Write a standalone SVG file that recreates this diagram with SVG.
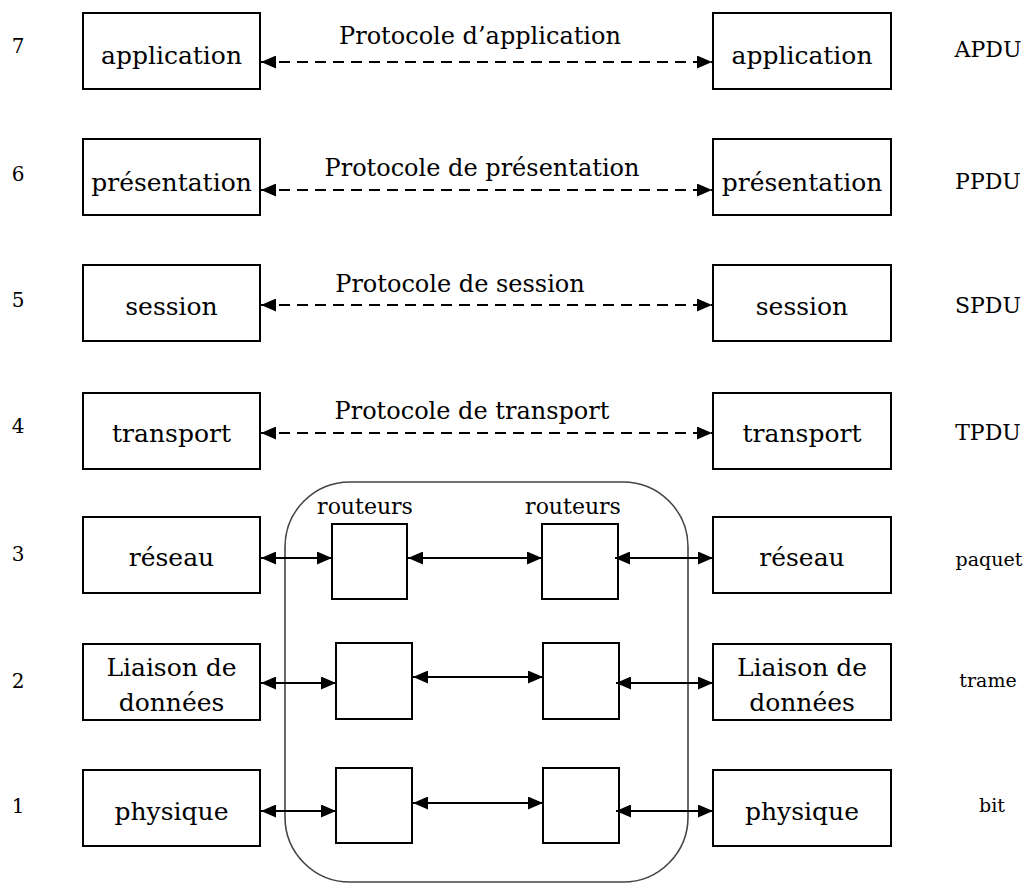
<svg xmlns="http://www.w3.org/2000/svg" width="1032" height="883" viewBox="0 0 1032 883">
<style>
text{font-family:"DejaVu Serif","Liberation Serif",serif;fill:#000}
.box{fill:#fff;stroke:#000;stroke-width:2}
.t{font-size:25px;text-anchor:middle}
.num{font-size:20px;text-anchor:middle}
.pdu{font-size:22px;text-anchor:middle}
.pdus{font-size:19px;text-anchor:middle}
.pl{font-size:24px;text-anchor:middle}
.rt{font-size:22px;text-anchor:middle}
.c{stroke:#000;stroke-width:2;fill:none;marker-start:url(#ah);marker-end:url(#ah)}
.d{stroke-dasharray:11 7}
</style>
<defs>
<marker id="ah" markerUnits="userSpaceOnUse" markerWidth="15" markerHeight="13" refX="15" refY="6.5" orient="auto-start-reverse" viewBox="0 0 15 13">
<path d="M0,0 L15,6.5 L0,13 z" fill="#000"/>
</marker>
</defs>
<rect id="cloud" x="285" y="482" width="403" height="400" rx="65" ry="65" fill="none" stroke="#444" stroke-width="1.6"/>
<g id="numbers">
<text class="num" x="18" y="53">7</text>
<text class="num" x="18" y="181">6</text>
<text class="num" x="18" y="307">5</text>
<text class="num" x="18" y="433">4</text>
<text class="num" x="18" y="561">3</text>
<text class="num" x="18" y="688">2</text>
<text class="num" x="18" y="813">1</text>
</g>
<g id="pdus">
<text class="pdu" x="988" y="57">APDU</text>
<text class="pdu" x="988" y="189">PPDU</text>
<text class="pdu" x="988" y="313">SPDU</text>
<text class="pdu" x="988" y="440">TPDU</text>
<text class="pdus" x="989" y="566">paquet</text>
<text class="pdus" x="988" y="687">trame</text>
<text class="pdus" x="992" y="812">bit</text>
</g>
<g id="L7"><rect class="box" x="83" y="13" width="177" height="76"/><text class="t" x="171.5" y="64">application</text></g>
<g id="R7"><rect class="box" x="713" y="13" width="178" height="76"/><text class="t" x="802" y="64">application</text></g>
<g id="L6"><rect class="box" x="83" y="139" width="177" height="76"/><text class="t" x="171.5" y="191">présentation</text></g>
<g id="R6"><rect class="box" x="713" y="139" width="178" height="76"/><text class="t" x="802" y="191">présentation</text></g>
<g id="L5"><rect class="box" x="83" y="265" width="177" height="76"/><text class="t" x="171.5" y="315">session</text></g>
<g id="R5"><rect class="box" x="713" y="265" width="178" height="76"/><text class="t" x="802" y="315">session</text></g>
<g id="L4"><rect class="box" x="83" y="393" width="177" height="76"/><text class="t" x="171.5" y="442">transport</text></g>
<g id="R4"><rect class="box" x="713" y="393" width="178" height="76"/><text class="t" x="802" y="442">transport</text></g>
<g id="L3"><rect class="box" x="83" y="517" width="177" height="76"/><text class="t" x="171.5" y="566">réseau</text></g>
<g id="R3"><rect class="box" x="713" y="517" width="178" height="76"/><text class="t" x="802" y="566">réseau</text></g>
<g id="L2"><rect class="box" x="83" y="644" width="177" height="76"/><text class="t" x="171.5" y="676">Liaison de</text><text class="t" x="171.5" y="711">données</text></g>
<g id="R2"><rect class="box" x="713" y="644" width="178" height="76"/><text class="t" x="802" y="676">Liaison de</text><text class="t" x="802" y="711">données</text></g>
<g id="L1"><rect class="box" x="83" y="770" width="177" height="76"/><text class="t" x="171.5" y="820">physique</text></g>
<g id="R1"><rect class="box" x="713" y="770" width="178" height="76"/><text class="t" x="802" y="820">physique</text></g>
<g id="routers">
<text class="rt" x="365" y="514">routeurs</text>
<text class="rt" x="573" y="514">routeurs</text>
<rect class="box" x="332" y="524" width="75" height="75"/>
<rect class="box" x="542" y="524" width="76" height="75"/>
<rect class="box" x="336" y="643" width="76" height="76"/>
<rect class="box" x="543" y="643" width="76" height="76"/>
<rect class="box" x="336" y="768" width="76" height="75"/>
<rect class="box" x="543" y="768" width="76" height="75"/>
</g>
<g id="protocols">
<text class="pl" x="480" y="44">Protocole d’application</text>
<text class="pl" x="482" y="176">Protocole de présentation</text>
<text class="pl" x="460" y="292">Protocole de session</text>
<text class="pl" x="472" y="419">Protocole de transport</text>
</g>
<g id="connectors">
<line class="c d" x1="261" y1="62" x2="712" y2="62"/>
<line class="c d" x1="261" y1="190" x2="712" y2="190"/>
<line class="c d" x1="261" y1="305" x2="712" y2="305"/>
<line class="c d" x1="261" y1="433" x2="712" y2="433"/>
<line class="c" x1="261" y1="558" x2="332" y2="558"/>
<line class="c" x1="408" y1="558" x2="542" y2="558"/>
<line class="c" x1="615" y1="558" x2="713" y2="558"/>
<line class="c" x1="261" y1="683" x2="336" y2="683"/>
<line class="c" x1="413" y1="677" x2="543" y2="677"/>
<line class="c" x1="616" y1="683" x2="713" y2="683"/>
<line class="c" x1="261" y1="811" x2="336" y2="811"/>
<line class="c" x1="413" y1="803" x2="543" y2="803"/>
<line class="c" x1="616" y1="811" x2="713" y2="811"/>
</g>
</svg>
